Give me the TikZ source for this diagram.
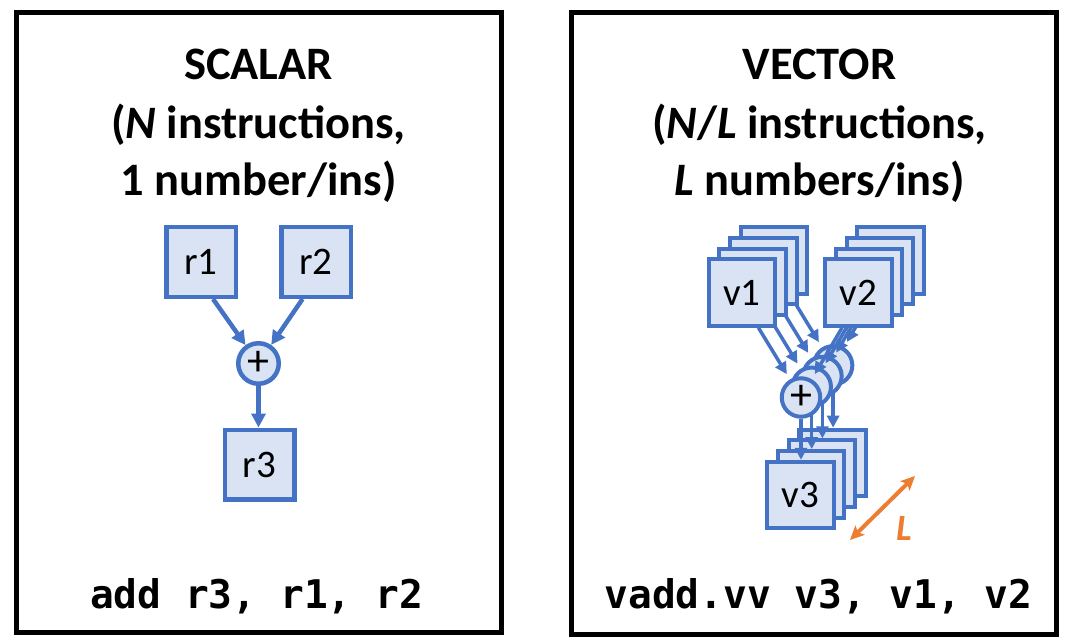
\documentclass[tikz,border=0pt]{standalone}
\usepackage{fontspec}
\setmainfont{Carlito}
\newfontfamily\codefont{DejaVu Sans Mono}
\usetikzlibrary{arrows.meta,calc}
\definecolor{boxblue}{HTML}{4472C4}
\definecolor{boxfill}{HTML}{DAE3F3}
\definecolor{lorange}{HTML}{ED7D31}
\begin{document}
\begin{tikzpicture}[x=1pt,y=-1pt,
  panel/.style={draw=black, line width=5pt},
  title/.style={font=\fontsize{46.5}{54}\selectfont\bfseries, anchor=base, inner sep=0pt},
  code/.style={font=\fontsize{39.5}{47}\selectfont\codefont\bfseries, anchor=base, inner sep=0pt},
  sreg/.style={draw=boxblue, fill=boxfill, line width=4.5pt, minimum size=69.5pt, inner sep=0pt, font=\fontsize{39}{42}\selectfont},
  sop/.style={circle, draw=boxblue, fill=boxfill, line width=4.5pt, minimum size=40.5pt, inner sep=0pt, font=\fontsize{44}{44}\selectfont},
  sarrow/.style={draw=boxblue, line width=4.5pt, -{Triangle[length=14pt,width=14pt]}},
  vreg/.style={draw=boxblue, fill=boxfill, line width=4pt, minimum size=66.5pt, inner sep=0pt, font=\fontsize{39}{42}\selectfont},
  vop/.style={circle, draw=boxblue, fill=boxfill, line width=4pt, minimum size=38.5pt, inner sep=0pt, font=\fontsize{44}{44}\selectfont},
  varrow/.style={draw=boxblue, line width=3.5pt, -{Triangle[length=12pt,width=12pt]}},
  larrow/.style={draw=lorange, line width=4pt, {Stealth[length=14pt,width=13pt,inset=3pt]}-{Stealth[length=14pt,width=13pt,inset=3pt]}},
]
\useasboundingbox (0,0) rectangle (1068,639);
% panels
\draw[panel] (16.5,12.5) rectangle (501.5,632);
\draw[panel] (571.5,12.5) rectangle (1056,634.5);
% scalar titles
\node[title] (st1) at (258.5,79.6) {SCALAR};
\node[title] (st2) at (258.5,139) {(\textit{N} instructions,};
\node[title] (st3) at (258.5,196) {1 number/ins)};
% vector titles
\node[title] (vt1) at (819.5,79.6) {VECTOR};
\node[title] (vt2) at (819.5,139) {(\textit{N}/\textit{L} instructions,};
\node[title] (vt3) at (819.5,196) {\textit{L} numbers/ins)};
% scalar diagram
\node[sreg] (r1) at (201,262) {r1};
\node[sreg] (r2) at (316,262) {r2};
\node[sop] (c) at (258.5,363.5) {+};
\node[sreg] (r3) at (259.5,464.5) {r3};
\draw[sarrow] (r1.-72) -- (c);
\draw[sarrow] (r2.-110) -- (c);
\draw[sarrow] (c.south) -- (c.south |- r3.north);
% vector diagram, back to front
\foreach \k in {3,2,1,0} {
  \pgfmathsetmacro\dd{10.7*\k}
  \node[vreg] (v1\k) at (742+\dd,292.5-\dd) {\ifnum\k=0 v1\fi};
  \node[vreg] (v2\k) at (858.5+\dd,292.5-\dd) {\ifnum\k=0 v2\fi};
  \node[vreg] (v3\k) at (800.5+\dd,495-\dd) {\ifnum\k=0 v3\fi};
  \node[vop] (c\k) at (801+\dd,397.5-\dd) {\ifnum\k=0 +\fi};
  \draw[varrow, shorten >=6pt] (v1\k.-65) -- (c\k);
  \draw[varrow, shorten >=6pt] (v2\k.-115) -- (c\k);
  \draw[varrow] (c\k.south) -- (c\k.south |- v3\k.north);
}
% L arrow
\coordinate (La) at (850,540);
\coordinate (Lb) at (915,476);
\draw[larrow] (La) -- (Lb);
\node[font=\fontsize{37}{40}\selectfont\bfseries\itshape, text=lorange, inner sep=0pt] (Ltxt) at (904,528.5) {L};
% code
\node[code] (scode) at (256.5,608) {add r3, r1, r2};
\node[code] (vcode) at (818.5,608) {vadd.vv v3, v1, v2};
\end{tikzpicture}
\end{document}
